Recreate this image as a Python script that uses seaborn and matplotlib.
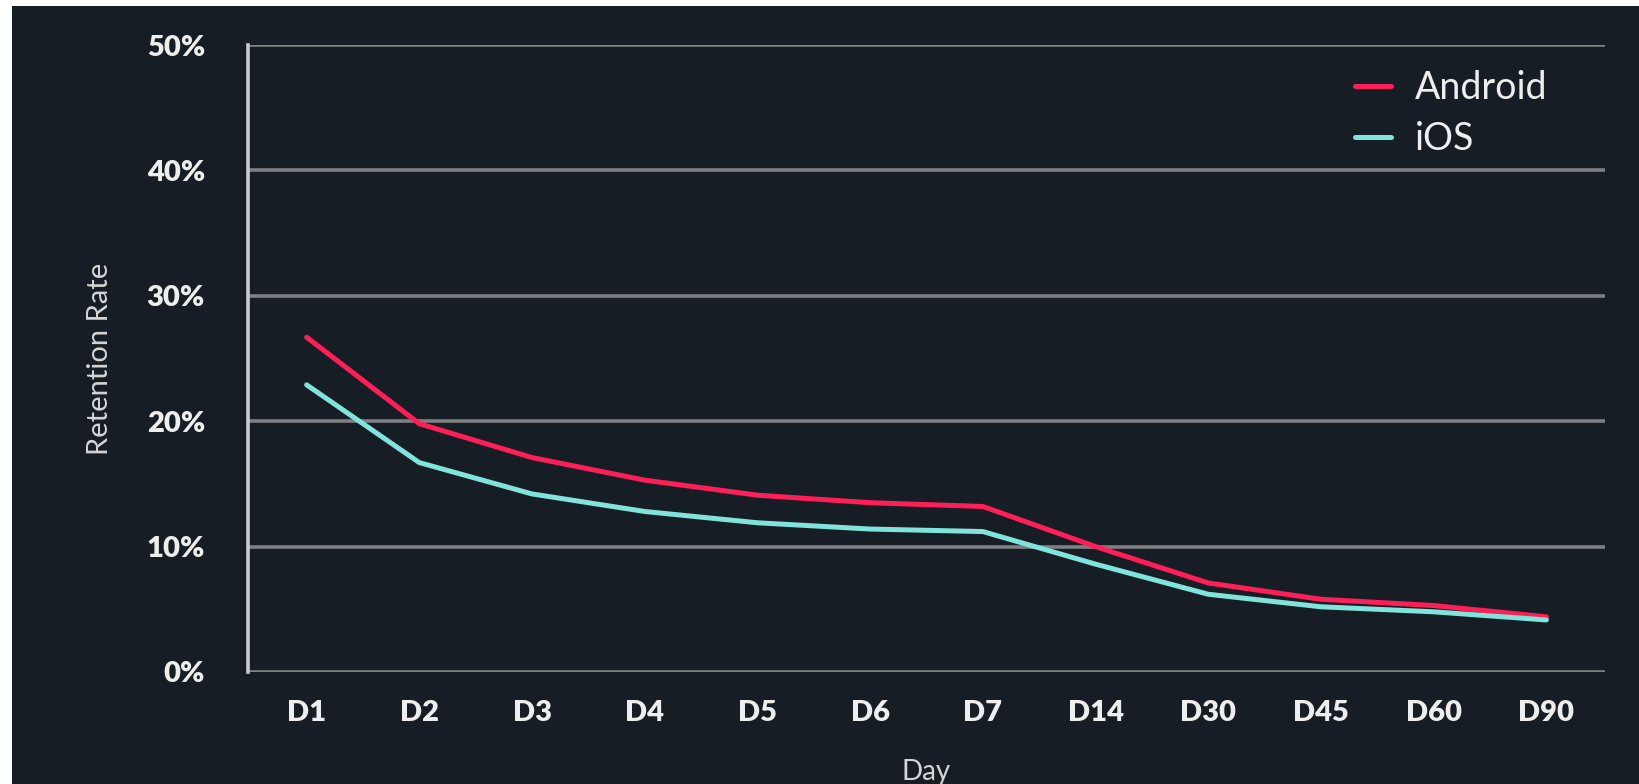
import matplotlib
matplotlib.use("Agg")
import matplotlib.pyplot as plt
import seaborn as sns
import pandas as pd
from matplotlib.patches import Rectangle

days = ["D1", "D2", "D3", "D4", "D5", "D6", "D7", "D14", "D30", "D45", "D60", "D90"]
android = [26.7, 19.8, 17.1, 15.3, 14.1, 13.5, 13.2, 10.0, 7.1, 5.8, 5.3, 4.4]
ios = [22.9, 16.7, 14.2, 12.8, 11.9, 11.4, 11.2, 8.6, 6.2, 5.2, 4.8, 4.15]
yticks = [0, 10, 20, 30, 40, 50]
ytick_labels = ["0%", "10%", "20%", "30%", "40%", "50%"]

BG = "#171d24"
sns.set_theme(style="dark")
plt.rcParams["font.family"] = ["Lato", "DejaVu Sans"]

df = pd.DataFrame({
    "Day": days * 2,
    "idx": list(range(len(days))) * 2,
    "Rate": android + ios,
    "Platform": ["Android"] * len(days) + ["iOS"] * len(days),
})

fig = plt.figure(figsize=(16.39, 7.84), dpi=100, facecolor="white")
fig.patches.append(Rectangle((12 / 1639, 0), 1 - 12 / 1639, 1 - 6 / 784,
                             transform=fig.transFigure, facecolor=BG,
                             edgecolor="none", zorder=-10))
ax = fig.add_axes([248 / 1639, (784 - 672) / 784, (1605 - 248) / 1639, (672 - 45) / 784])
ax.set_facecolor(BG)

sns.lineplot(data=df, x="idx", y="Rate", hue="Platform",
             palette={"Android": "#ff1f58", "iOS": "#80e4dc"},
             linewidth=3.6, ax=ax, legend=True)

ax.set_xlim(-0.52, 11.52)
ax.set_ylim(0, 50)
ax.set_xticks(range(len(days)))
ax.set_xticklabels(days)
ax.set_yticks(yticks)
ax.set_yticklabels(ytick_labels)

ax.grid(False)
for y in yticks:
    ax.axhline(y, color="#7d7f82", linewidth=2.6, zorder=0.5)

for s in ["top", "right", "bottom"]:
    ax.spines[s].set_visible(False)
ax.spines["left"].set_color("#c9cbcd")
ax.spines["left"].set_linewidth(2.6)

ax.tick_params(axis="y", length=6, width=2.4, color="#c9cbcd", pad=25,
               labelsize=21, labelcolor="#eeeeee")
ax.tick_params(axis="x", length=0, pad=20, labelsize=21, labelcolor="#eeeeee")
for lab in ax.get_xticklabels() + ax.get_yticklabels():
    lab.set_fontweight("heavy")

ax.set_xlabel("Day", fontsize=20, color="#d5d5d5", labelpad=24)
ax.set_ylabel("Retention Rate", fontsize=21, color="#d5d5d5", labelpad=24)

leg = ax.legend(frameon=False, loc="upper left",
                bbox_to_anchor=(1355 / 1639, 1 - 70 / 784),
                bbox_transform=fig.transFigure,
                fontsize=27, handlelength=0.95, handletextpad=0.65,
                labelspacing=0.4, borderpad=0, borderaxespad=0)
for t in leg.get_texts():
    t.set_color("#eeeeee")
for h in leg.get_lines():
    h.set_linewidth(3.6)

fig.savefig("out.png", dpi=100, facecolor=fig.get_facecolor())
